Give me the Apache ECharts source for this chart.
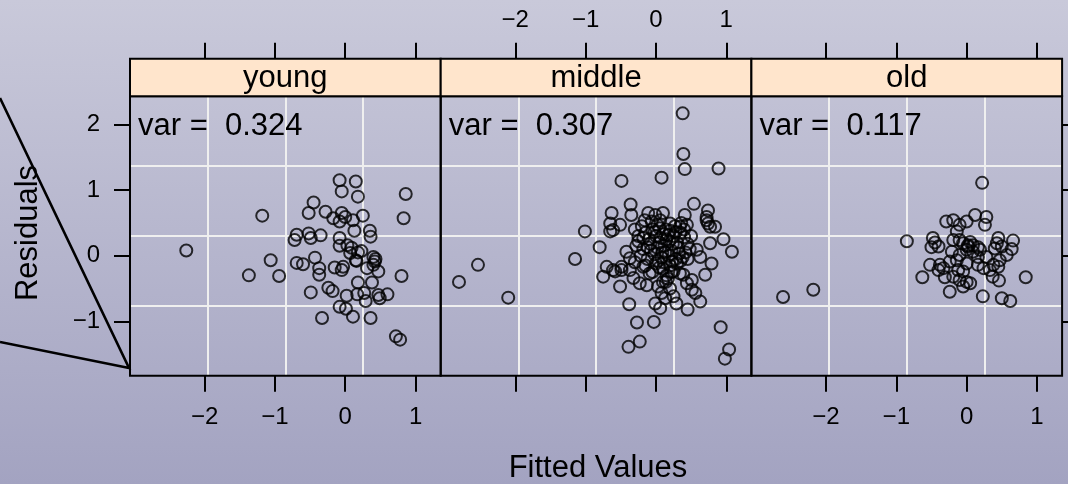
<!DOCTYPE html>
<html>
<head>
<meta charset="utf-8">
<script src="https://cdn.jsdelivr.net/npm/echarts@6/dist/echarts.min.js"></script>
<style>
html,body{margin:0;padding:0;}
#chart{width:1068px;height:484px;background:linear-gradient(to bottom,#c9c9da 0%,#a3a3c1 100%);}
</style>
</head>
<body>
<div id="chart"></div>
<script>
const panels = ['young', 'middle', 'old'];
const variances = ['0.324', '0.307', '0.117'];
const xTicks = [-2, -1, 0, 1];
const yTicks = [-1, 0, 1, 2];
const xRange = [-3.06, 1.357];
const yRange = [-1.83, 2.43];

const youngPoints = [
  [-2.26,0.08],[-1.18,0.61],[-1.37,-0.30],[-1.06,-0.07],[-0.94,-0.31],[-0.08,1.15],[0.15,1.13],
  [-0.05,0.98],[0.18,0.90],[0.86,0.94],[0.83,0.57],[-0.45,0.81],[-0.52,0.65],[-0.28,0.67],
  [-0.17,0.57],[-0.05,0.65],[-0.08,0.52],[0.00,0.59],[0.11,0.54],[0.25,0.61],[0.13,0.38],
  [0.35,0.38],[0.36,0.29],[-0.69,0.32],[-0.72,0.24],[-0.52,0.34],[-0.49,0.27],[-0.35,0.31],
  [-0.08,0.27],[-0.08,0.15],[0.03,0.16],[0.09,0.12],[0.07,0.04],[0.15,-0.07],[0.23,0.07],
  [0.40,-0.02],[0.42,-0.09],[0.43,-0.05],[0.40,-0.14],[-0.43,-0.03],[-0.69,-0.11],[-0.60,-0.13],
  [-0.37,-0.19],[-0.37,-0.29],[-0.15,-0.18],[-0.05,-0.22],[-0.03,-0.17],[0.16,-0.08],[0.31,-0.19],
  [0.47,-0.24],[0.80,-0.31],[0.18,-0.41],[0.38,-0.41],[-0.49,-0.56],[-0.24,-0.49],[-0.18,-0.54],
  [0.02,-0.61],[0.17,-0.59],[0.27,-0.57],[0.29,-0.69],[0.47,-0.60],[0.49,-0.65],[0.60,-0.59],
  [-0.08,-0.78],[0.01,-0.81],[-0.33,-0.95],[0.11,-0.93],[0.36,-0.95],[0.72,-1.23],[0.78,-1.28],
  [0.18,0.05]
];

const middlePoints = [
  [-2.80,-0.40],[-2.53,-0.14],[-2.10,-0.64],[-1.15,-0.05],[-1.01,0.37],[0.38,2.17],[0.39,1.55],
  [0.41,1.32],[0.89,1.33],[0.08,1.19],[-0.49,1.14],[-0.36,0.78],[0.54,0.79],[0.74,0.69],
  [-0.63,0.65],[0.41,0.62],[0.72,0.54],[0.77,0.44],[0.84,0.44],[0.96,0.25],[-0.80,0.13],
  [-0.65,0.49],[-0.61,0.39],[-0.51,0.47],[-0.65,0.37],[-0.35,0.62],[-0.11,0.65],[-0.01,0.62],
  [0.10,0.65],[-0.16,0.54],[-0.06,0.52],[0.06,0.54],[0.20,0.49],[0.34,0.44],[0.44,0.47],
  [0.72,0.59],[0.74,0.49],[1.08,0.06],[0.77,0.19],[0.58,0.09],[0.63,-0.02],[-0.42,0.06],
  [-0.37,-0.04],[-0.70,-0.17],[-0.75,-0.32],[-0.61,-0.22],[-0.49,-0.22],[-0.51,-0.47],
  [-0.38,-0.74],[-0.27,-1.02],[-0.03,-1.01],[-0.39,-1.39],[-0.23,-1.31],[0.92,-1.09],
  [1.04,-1.43],[0.98,-1.57],[-0.01,-0.73],[0.06,-0.80],[0.29,-0.73],[0.45,-0.82],[0.63,-0.70],
  [0.56,-0.57],[0.51,-0.52],[0.44,-0.42],[0.39,-0.29],[0.51,-0.37],[0.70,-0.29],[0.79,-0.12],
  [0.08,-0.57],[0.13,-0.65],[0.03,-0.47],[0.10,-0.40],[0.25,-0.62],[0.34,-0.27],[0.25,-0.24],
  [-0.13,-0.45],[-0.23,-0.42],[-0.32,-0.34],[-0.09,-0.27],[-0.18,-0.17],[-0.58,-0.24],
  [-0.37,-0.22],[-0.49,-0.17],
  [-0.30,0.40],[-0.25,0.30],[-0.20,0.45],[-0.15,0.35],[-0.10,0.25],[-0.05,0.40],[0.00,0.30],
  [0.05,0.42],[0.10,0.33],[0.15,0.25],[0.20,0.38],[0.25,0.30],[0.30,0.20],[0.35,0.35],
  [0.40,0.28],[0.45,0.18],[0.50,0.30],[-0.28,0.15],[-0.18,0.10],[-0.08,0.18],[0.02,0.12],
  [0.12,0.15],[0.22,0.08],[0.32,0.12],[0.42,0.05],[-0.22,0.00],[-0.12,-0.05],[-0.02,0.02],
  [0.08,-0.03],[0.18,0.00],[0.28,-0.05],[0.38,-0.02],[0.48,0.10],[-0.30,-0.10],[-0.15,-0.15],
  [0.00,-0.12],[0.10,-0.20],[0.20,-0.15],[0.30,-0.12],[-0.05,-0.25],[0.15,-0.30],[0.05,0.20],
  [-0.25,0.22],[0.27,0.45],[0.36,0.50],
  [-0.02,0.36],[0.07,0.27],[0.17,0.31],[0.13,0.05],[0.03,-0.08],[0.23,-0.09],[0.33,0.03],
  [0.14,0.40],[-0.12,0.13],[0.05,-0.18],[0.24,0.18],[0.40,0.40],[-0.07,0.08],[0.11,-0.10],
  [0.35,-0.08],[0.19,0.22],[0.02,0.47],[-0.18,0.27],[0.28,0.36],[0.09,0.05],[0.22,-0.25],
  [0.45,-0.05],[0.14,-0.40],[0.20,-0.50],[0.17,-0.35]
];

const oldPoints = [
  [-2.61,-0.63],[-2.18,-0.52],[-0.85,0.22],[0.22,1.11],[0.12,0.62],[0.28,0.59],[0.26,0.47],
  [-0.29,0.52],[-0.19,0.54],[-0.10,0.47],[0.00,0.52],[-0.14,0.37],[-0.10,0.24],[-0.19,0.24],
  [-0.48,0.27],[-0.45,0.20],[-0.50,0.13],[-0.40,0.14],[-0.05,0.19],[0.02,0.16],[0.09,0.16],
  [0.16,0.13],[0.00,0.09],[0.09,0.06],[0.19,0.09],[0.45,0.27],[0.43,0.19],[0.66,0.23],
  [0.40,0.11],[0.50,0.14],[0.64,0.10],[0.57,0.01],[-0.21,0.06],[-0.10,0.01],[-0.14,-0.07],
  [-0.24,-0.09],[-0.52,-0.14],[-0.38,-0.14],[-0.33,-0.19],[-0.40,-0.22],[0.00,-0.12],
  [0.16,-0.14],[0.24,-0.19],[0.33,-0.22],[0.38,-0.14],[0.45,-0.17],[0.47,-0.07],[0.28,-0.02],
  [0.16,-0.02],[-0.63,-0.33],[-0.31,-0.33],[-0.19,-0.32],[-0.10,-0.37],[0.00,-0.40],
  [-0.05,-0.47],[0.05,-0.42],[-0.24,-0.55],[0.23,-0.62],[0.37,-0.32],[0.46,-0.38],[0.50,-0.65],
  [0.62,-0.69],[0.84,-0.33],[0.02,0.14],[0.05,0.21],[-0.12,-0.22],[-0.05,-0.24]
];
const panelData = [youngPoints, middlePoints, oldPoints];

const FONT = '"Liberation Sans", Arial, Helvetica, sans-serif';
const L0 = 130, PW = 310.7, TOP = 96.3, PH = 279.4, STRIP = 37.6;
const fmt = v => String(v).replace('-', '\u2212');
const noLine = {show: false, onZero: false};
const gridSplit = {show: true, showMinLine: false, showMaxLine: false,
  lineStyle: {color: '#efefef', width: 2}};

const grids = [], xAxes = [], yAxes = [], series = [], graphics = [];
panels.forEach((name, i) => {
  const left = L0 + i * PW;
  grids.push({left: left, top: TOP, width: PW, height: PH, show: false});
  const tickStyle = {show: true, inside: false, length: 16, customValues: xTicks,
    lineStyle: {color: '#000', width: 2}};
  xAxes.push({gridIndex: i, type: 'value', min: xRange[0], max: xRange[1], position: 'bottom',
    axisLine: noLine, splitLine: {show: false},
    axisTick: tickStyle,
    axisLabel: {show: i !== 1, customValues: xTicks, margin: 30, color: '#000',
      fontSize: 24, fontFamily: FONT, formatter: fmt}});
  xAxes.push({gridIndex: i, type: 'value', min: xRange[0], max: xRange[1], position: 'top',
    offset: STRIP, axisLine: noLine, splitLine: {show: false},
    axisTick: tickStyle,
    axisLabel: {show: i === 1, customValues: xTicks, margin: 26, color: '#000',
      fontSize: 24, fontFamily: FONT, formatter: fmt}});
  xAxes.push({gridIndex: i, type: 'value', min: 0, max: 4, interval: 1,
    axisLine: noLine, axisTick: {show: false}, axisLabel: {show: false},
    splitLine: gridSplit});

  const yTickStyle = {inside: false, length: 16, customValues: yTicks,
    lineStyle: {color: '#000', width: 2}};
  yAxes.push({gridIndex: i, type: 'value', min: yRange[0], max: yRange[1], position: 'left',
    axisLine: noLine, splitLine: {show: false},
    axisTick: Object.assign({show: i === 0}, yTickStyle),
    axisLabel: {show: i === 0, customValues: yTicks, margin: 30, color: '#000',
      fontSize: 24, fontFamily: FONT, formatter: fmt}});
  yAxes.push({gridIndex: i, type: 'value', min: yRange[0], max: yRange[1], position: 'right',
    axisLine: noLine, splitLine: {show: false},
    axisTick: Object.assign({show: i === 2}, yTickStyle),
    axisLabel: {show: false}});
  yAxes.push({gridIndex: i, type: 'value', min: 0, max: 4, interval: 1,
    axisLine: noLine, axisTick: {show: false}, axisLabel: {show: false},
    splitLine: gridSplit});

  series.push({type: 'scatter', xAxisIndex: 3 * i, yAxisIndex: 3 * i, data: panelData[i],
    symbol: 'circle', symbolSize: 12, silent: true, z: 5,
    itemStyle: {color: 'rgba(0,0,0,0)', borderColor: '#000', borderWidth: 2}});

  graphics.push({type: 'rect', shape: {x: left, y: TOP, width: PW, height: PH},
    style: {fill: null, stroke: '#000', lineWidth: 2}, z: 10, silent: true});
  graphics.push({type: 'rect', shape: {x: left, y: TOP - STRIP, width: PW, height: STRIP},
    style: {fill: '#ffe5cc', stroke: '#000', lineWidth: 2}, z: 10});
  graphics.push({type: 'text', x: left + PW / 2, y: TOP - STRIP / 2 + 1, z: 11,
    style: {text: name, font: '31px ' + FONT, fill: '#000', align: 'center', verticalAlign: 'middle'}});
  graphics.push({type: 'text', x: left + 8, y: 126, z: 11,
    style: {text: 'var =  ' + variances[i], font: '31px ' + FONT, fill: '#000',
      align: 'left', verticalAlign: 'middle'}});
});

graphics.push({type: 'text', x: 598, y: 468, z: 11,
  style: {text: 'Fitted Values', font: '31px ' + FONT, fill: '#000', align: 'center', verticalAlign: 'middle'}});
graphics.push({type: 'text', x: 28, y: 233, rotation: Math.PI / 2, z: 11,
  style: {text: 'Residuals', font: '31px ' + FONT, fill: '#000', align: 'center', verticalAlign: 'middle'}});
graphics.push({type: 'polyline', z: 12,
  shape: {points: [[0, 98], [129, 368], [0, 342]]},
  style: {stroke: '#000', lineWidth: 2.6, fill: null}});

const chart = echarts.init(document.getElementById('chart'), null, {renderer: 'canvas'});
chart.setOption({
  backgroundColor: 'transparent',
  animation: false,
  grid: grids, xAxis: xAxes, yAxis: yAxes, series: series, graphic: graphics
});
</script>
</body>
</html>
